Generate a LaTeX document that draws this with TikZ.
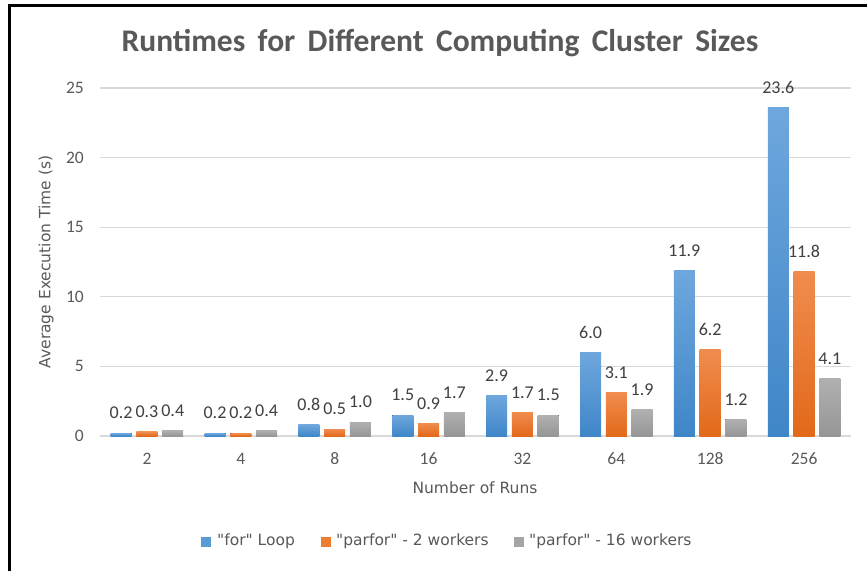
\documentclass[tikz,border=0pt]{standalone}
\usepackage{fontspec}
\setmainfont{Carlito}
\newfontfamily\tahfont{DejaVu Sans}
\definecolor{titlegray}{HTML}{595959}
\definecolor{labgray}{HTML}{404040}
\definecolor{gridgray}{HTML}{D9D9D9}
\definecolor{blueT}{HTML}{6EA7DD}
\definecolor{blueB}{HTML}{3F86C8}
\definecolor{oranT}{HTML}{F08C4E}
\definecolor{oranB}{HTML}{E2691A}
\definecolor{grayT}{HTML}{B0B0B0}
\definecolor{grayB}{HTML}{969696}
\definecolor{blueL}{HTML}{5B9BD5}
\definecolor{oranL}{HTML}{ED7D31}
\definecolor{grayL}{HTML}{A5A5A5}
\tikzset{
  ticklab/.style={text=titlegray, font=\fontsize{17.5}{20}\selectfont, inner sep=0pt},
  datalab/.style={text=labgray, font=\fontsize{18}{21}\selectfont, inner sep=0pt},
  axtitle/.style={text=titlegray, font=\tahfont\fontsize{15.5}{18}\selectfont, inner sep=0pt},
  legtext/.style={text=titlegray, font=\tahfont\fontsize{15.5}{18}\selectfont, inner sep=0pt, anchor=west},
  gridline/.style={draw=gridgray, line width=1.3pt},
  bluebar/.style={top color=blueT, bottom color=blueB, draw=none},
  oranbar/.style={top color=oranT, bottom color=oranB, draw=none},
  graybar/.style={top color=grayT, bottom color=grayB, draw=none},
}
\begin{document}
\begin{tikzpicture}[x=1pt,y=-1pt]
\useasboundingbox (0,0) rectangle (867,571);
\fill[white] (0,0) rectangle (867,571);
% frame
\draw[line width=2.7pt] (9.7,571) -- (9.7,5.5) -- (867,5.5);
% title
\node[text=titlegray, font=\bfseries\fontsize{31.5}{36}\selectfont, inner sep=0pt] (title) at (440,43) {Runtimes\, for\, Different\, Computing\, Cluster\, Sizes};
% grid + tick labels
\foreach \v in {0,5,10,15,20,25}{
  \draw[gridline] (100,{436-13.92*\v}) -- (851,{436-13.92*\v});
  \node[ticklab, anchor=east] (tick\v) at (84,{436-13.92*\v}) {\v};
}
% bars
\foreach \i/\a/\b/\c/\n in {0/0.2/0.3/0.4/2, 1/0.2/0.2/0.4/4, 2/0.8/0.5/1.0/8, 3/1.5/0.9/1.7/16, 4/2.9/1.7/1.5/32, 5/6.0/3.1/1.9/64, 6/11.9/6.2/1.2/128, 7/23.6/11.8/4.1/256}{
  \pgfmathsetmacro{\cx}{100+93.875*(\i+0.5)}
  \pgfmathsetmacro{\ya}{436-13.92*\a}
  \pgfmathsetmacro{\yb}{436-13.92*\b}
  \pgfmathsetmacro{\yc}{436-13.92*\c}
  \fill[bluebar] ({\cx-25.8-10.5},436) rectangle ({\cx-25.8+10.5},\ya);
  \fill[oranbar] ({\cx-10.5},436) rectangle ({\cx+10.5},\yb);
  \fill[graybar] ({\cx+25.8-10.5},436) rectangle ({\cx+25.8+10.5},\yc);
  \node[datalab] (la\i) at ({\cx-25.8},{\ya-20}) {\a};
  \node[datalab] (lb\i) at ({\cx},{\yb-20}) {\b};
  \node[datalab] (lc\i) at ({\cx+25.8},{\yc-20}) {\c};
  \node[ticklab] (cat\i) at (\cx,459) {\n};
}
% axis titles
\node[axtitle] (xtitle) at (475,488) {Number of Runs};
\node[axtitle, rotate=90] (ytitle) at (46,262) {Average Execution Time (s)};
% legend
\fill[blueL] (201,536.5) rectangle (211,546.5);
\node[legtext] (leg1) at (217,541.5) {"for" Loop};
\fill[oranL] (321,536.5) rectangle (331,546.5);
\node[legtext] (leg2) at (336,541.5) {"parfor" - 2 workers};
\fill[grayL] (514,536.5) rectangle (524,546.5);
\node[legtext] (leg3) at (529,541.5) {"parfor" - 16 workers};
\end{tikzpicture}
\end{document}
